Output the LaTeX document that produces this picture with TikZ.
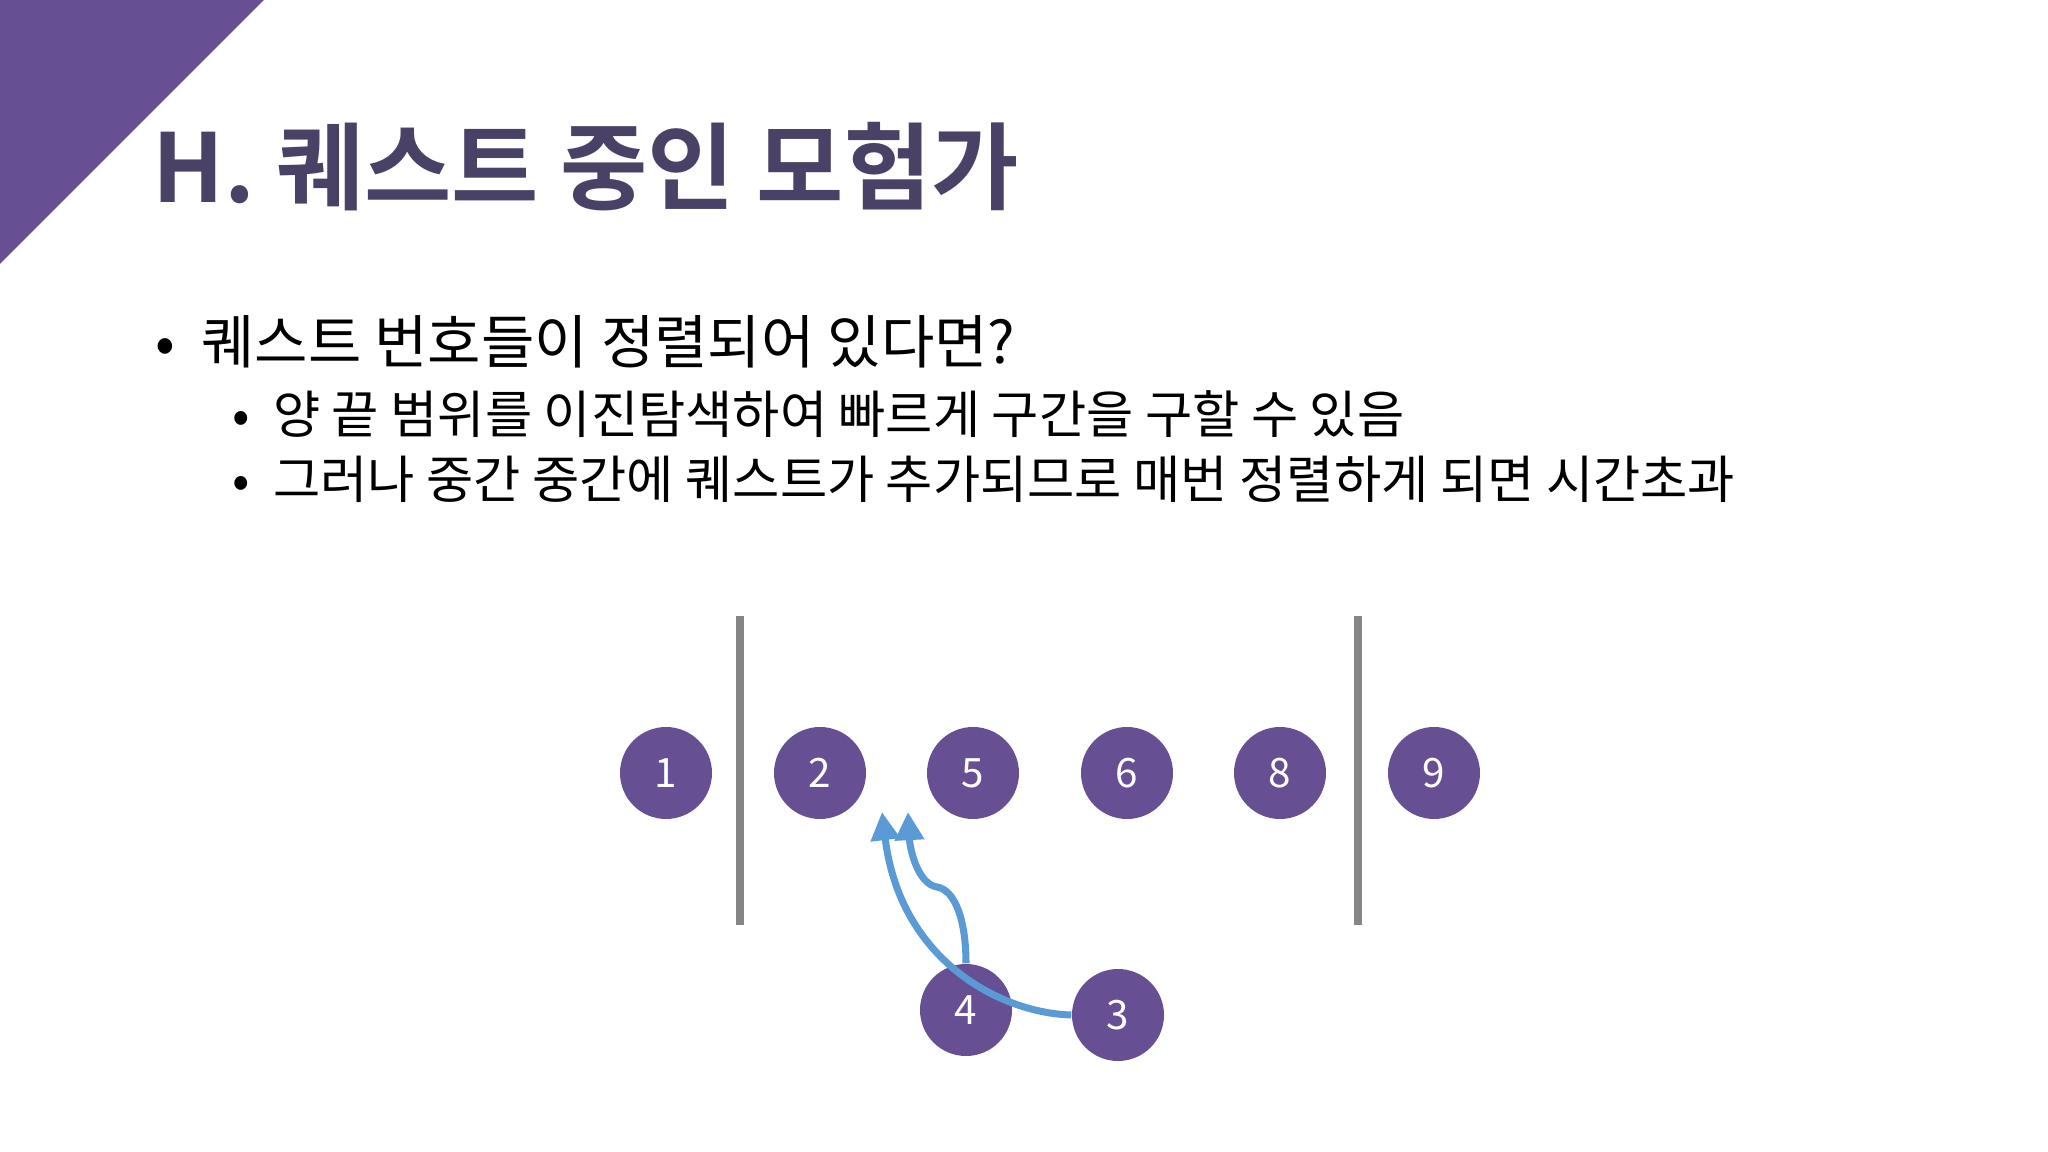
\documentclass[tikz,border=0pt]{standalone}
\usepackage{fontspec}
\setmainfont{Noto Sans CJK KR}
\newfontfamily\krb{Noto Sans CJK KR Bold}
\usetikzlibrary{arrows.meta}
\definecolor{pur}{HTML}{674F94}
\definecolor{ttl}{HTML}{4A4266}
\definecolor{arr}{HTML}{5B9BD5}
\definecolor{bar}{HTML}{858585}
\tikzset{
 num/.style={circle,fill=pur,minimum size=92*0.01cm,inner sep=0pt,text=white,font=\fontsize{11.5pt}{12pt}\selectfont},
 vbar/.style={draw=bar,line width=2.3pt},
 mv/.style={draw=arr,line width=2pt,-{Triangle[length=8pt,width=8pt]}}
}
\begin{document}
\begin{tikzpicture}[x=0.01cm,y=-0.01cm]
\useasboundingbox (0,0) rectangle (2048,1152);
\fill[pur] (0,0) -- (264,0) -- (0,264) -- cycle;
\node[anchor=west,text=ttl,inner sep=0pt] (title) at (152,167) {\krb\fontsize{27pt}{30pt}\selectfont H. 퀘스트 중인 모험가};
\node[anchor=west,inner sep=0pt] (b1) at (155,342) {\fontsize{16.5pt}{20pt}\selectfont • \ 퀘스트 번호들이 정렬되어 있다면?};
\node[anchor=west,inner sep=0pt] (b2) at (232,414) {\fontsize{14.6pt}{18pt}\selectfont • \ 양 끝 범위를 이진탐색하여 빠르게 구간을 구할 수 있음};
\node[anchor=west,inner sep=0pt] (b3) at (232,479) {\fontsize{14.6pt}{18pt}\selectfont • \ 그러나 중간 중간에 퀘스트가 추가되므로 매번 정렬하게 되면 시간초과};
\coordinate (l1t) at (740,616); \coordinate (l1b) at (740,925);
\coordinate (l2t) at (1358,616); \coordinate (l2b) at (1358,925);
\draw[vbar] (l1t) -- (l1b);
\draw[vbar] (l2t) -- (l2b);
\node[num] (n1) at (666,773) {1};
\node[num] (n2) at (820,773) {2};
\node[num] (n5) at (973,773) {5};
\node[num] (n6) at (1127,773) {6};
\node[num] (n8) at (1280,773) {8};
\node[num] (n9) at (1434,773) {9};
\node[num] (n4) at (966,1010) {4};
\node[num] (n3) at (1118,1015) {3};
\coordinate (t1) at (882,812);
\coordinate (t2) at (908,812);
\draw[mv] (n3.west) .. controls (1000,1013) and (900,960) .. (t1);
\draw[mv] (n4.north) .. controls (966,920) and (955,890) .. (937,887) .. controls (918,884) and (910,850) .. (t2);
\end{tikzpicture}
\end{document}
